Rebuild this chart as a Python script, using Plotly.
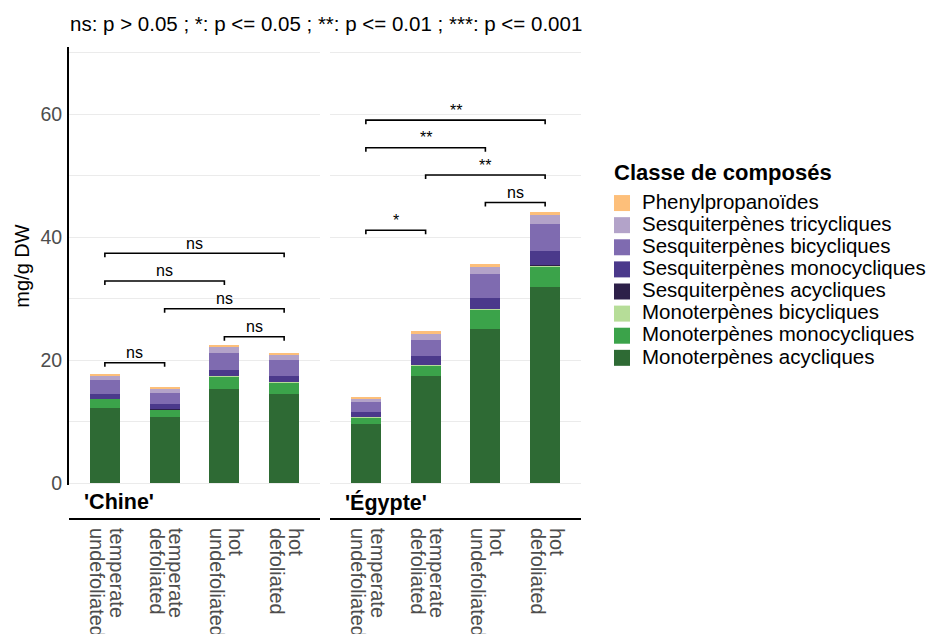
import plotly.graph_objects as go

# ---------------- data ----------------
regions = ["'Chine'", "'Égypte'"]
conditions = [["temperate", "undefoliated"], ["temperate", "defoliated"], ["hot", "undefoliated"], ["hot", "defoliated"]]

classes = ["Monoterpènes acycliques", "Monoterpènes monocycliques", "Monoterpènes bicycliques",
           "Sesquiterpènes acycliques", "Sesquiterpènes monocycliques", "Sesquiterpènes bicycliques",
           "Sesquiterpènes tricycliques", "Phenylpropanoïdes"]
colors = ["#2e6a34", "#3ba34a", "#b6dd98", "#2d2049", "#4b398b", "#7f6bb0", "#b3a3c9", "#fdbf7a"]

chine_mono_acyc = [12.2, 10.73, 15.28, 14.47]
chine_mono_mono = [1.46, 1.25, 2.0, 1.84]
chine_mono_bi = [0.05, 0.05, 0.15, 0.15]
chine_sesq_acyc = [0.02, 0.02, 0.02, 0.02]
chine_sesq_mono = [0.76, 0.82, 0.93, 0.94]
chine_sesq_bi = [2.28, 1.78, 2.83, 2.6]
chine_sesq_tri = [0.65, 0.57, 0.97, 0.8]
chine_phenyl = [0.32, 0.4, 0.27, 0.34]

egypte_mono_acyc = [9.59, 17.4, 25.04, 31.87]
egypte_mono_mono = [1.14, 1.68, 3.14, 3.41]
egypte_mono_bi = [0.05, 0.15, 0.15, 0.15]
egypte_sesq_acyc = [0.02, 0.02, 0.02, 0.02]
egypte_sesq_mono = [0.76, 1.42, 1.75, 2.29]
egypte_sesq_bi = [1.63, 2.6, 3.9, 4.39]
egypte_sesq_tri = [0.49, 0.98, 1.14, 1.47]
egypte_phenyl = [0.32, 0.47, 0.48, 0.49]

chine_series = [chine_mono_acyc, chine_mono_mono, chine_mono_bi, chine_sesq_acyc,
                chine_sesq_mono, chine_sesq_bi, chine_sesq_tri, chine_phenyl]
egypte_series = [egypte_mono_acyc, egypte_mono_mono, egypte_mono_bi, egypte_sesq_acyc,
                 egypte_sesq_mono, egypte_sesq_bi, egypte_sesq_tri, egypte_phenyl]

# significance brackets: (from condition index, to condition index, y level, label)
chine_brackets = [(0, 1, 19.56, "ns"), (2, 3, 23.79, "ns"), (1, 3, 28.34, "ns"),
                  (0, 2, 32.85, "ns"), (0, 3, 37.35, "ns")]
egypte_brackets = [(0, 1, 41.1, "*"), (2, 3, 45.6, "ns"), (1, 3, 50.08, "**"),
                   (0, 2, 54.5, "**"), (0, 3, 59.0, "**")]

title_text = "ns: p > 0.05 ; *: p <= 0.05 ; **: p <= 0.01 ; ***: p <= 0.001"
y_title = "mg/g DW"
legend_title = "Classe de composés"

# ---------------- figure ----------------
W, H = 928, 634
ML, MR, MT, MB = 69, 928 - 581, 47, 634 - 485
pw = W - ML - MR
ph = H - MT - MB
xs = list(range(len(conditions)))

fig = go.Figure()
panels = [("x", "y", chine_series, chine_brackets), ("x2", "y2", egypte_series, egypte_brackets)]
for xa, ya, series, brackets in panels:
    for name, color, vals in zip(classes, colors, series):
        fig.add_trace(go.Bar(x=xs, y=vals, name=name, marker=dict(color=color, line=dict(width=0)),
                             width=0.5, xaxis=xa, yaxis=ya, showlegend=False))
    for a, b, yl, lab in brackets:
        tip = 0.65
        fig.add_trace(go.Scatter(x=[xs[a], xs[a], xs[b], xs[b]], y=[yl - tip, yl, yl, yl - tip],
                                 mode="lines", line=dict(color="black", width=1.6),
                                 xaxis=xa, yaxis=ya, showlegend=False, hoverinfo="skip"))
        fig.add_annotation(x=(xs[a] + xs[b]) / 2, y=yl, xref=xa, yref=ya, text=lab, showarrow=False,
                           yanchor="middle", yshift=10,
                           font=dict(size=16, color="black", family="Liberation Sans, Arial"))

# legend entries (reversed order, larger square swatches)
for name, color in zip(reversed(classes), reversed(colors)):
    fig.add_trace(go.Scatter(x=[None], y=[None], mode="markers",
                             marker=dict(symbol="square", size=16, color=color),
                             name='<span style="font-size:20.5px">' + name + "</span>",
                             xaxis="x", yaxis="y", showlegend=True))

left_dom = [0, 251 / pw]
right_dom = [261 / pw, 1]
yr = [-2 / 6.15, (ph - 2) / 6.15]

tick_text = ["<br>".join('<span style="font-size:20px">' + part + "</span>" for part in c) for c in conditions]

common_x = dict(range=[-0.6, 3.6], tickvals=xs, ticktext=tick_text, tickangle=90,
                showgrid=False, zeroline=False, showline=False, ticks="",
                tickfont=dict(size=15, color="#4d4d4d"), ticklabelstandoff=42, fixedrange=True)
fig.update_layout(
    xaxis=dict(domain=left_dom, **common_x),
    xaxis2=dict(domain=right_dom, anchor="y2", **common_x),
    yaxis=dict(range=yr, tickvals=[0, 20, 40, 60], showgrid=True, gridcolor="#ebebeb", gridwidth=1,
               minor=dict(tickvals=[10, 30, 50, 70], showgrid=True, gridcolor="#ebebeb", gridwidth=1),
               zeroline=False, showline=True, linecolor="black", linewidth=1.8, ticks="",
               tickfont=dict(size=19.5, color="#4d4d4d"), ticklabelstandoff=1,
               title=dict(text=y_title, font=dict(size=20, color="black"), standoff=5)),
    yaxis2=dict(range=yr, anchor="x2", tickvals=[0, 20, 40, 60], showticklabels=False, showgrid=True,
                gridcolor="#ebebeb", gridwidth=1,
                minor=dict(tickvals=[10, 30, 50, 70], showgrid=True, gridcolor="#ebebeb", gridwidth=1),
                zeroline=False, showline=False, ticks=""),
)

# strip labels + strip lines
strip_y_text = -(502 - 485) / ph
strip_y_line = -(519 - 485) / ph
for xa, lab in zip(["x", "x2"], regions):
    fig.add_annotation(x=0, y=strip_y_text, xref=f"{xa} domain", yref="paper", text=f"<b>{lab}</b>",
                       showarrow=False, xanchor="left", yanchor="middle", xshift=13,
                       font=dict(size=21.5, color="black"))
    fig.add_shape(type="line", xref=f"{xa} domain", yref="paper", x0=0, x1=1,
                  y0=strip_y_line, y1=strip_y_line, line=dict(color="black", width=2))

# legend title
fig.add_annotation(x=(614 - ML) / pw, y=(485 - 172) / ph, xref="paper", yref="paper",
                   text="<b>" + legend_title + "</b>", showarrow=False, xanchor="left", yanchor="middle",
                   xshift=-2, font=dict(size=22, color="black"))

fig.update_layout(
    width=W, height=H,
    margin=dict(l=ML, r=MR, t=MT, b=MB, autoexpand=False),
    paper_bgcolor="white", plot_bgcolor="white",
    barmode="stack", bargap=0,
    font=dict(family="Liberation Sans, Arial, sans-serif", color="black"),
    title=dict(text=title_text, x=(70 - ML) / pw, xref="paper", xanchor="left",
               y=1 - 24 / H, yref="container", yanchor="middle", font=dict(size=20.5, color="black")),
    legend=dict(x=(602 - ML) / pw, xanchor="left", y=(485 - 187) / ph, yanchor="top",
                font=dict(size=14.7, color="black"), itemsizing="trace", traceorder="normal",
                bgcolor="rgba(0,0,0,0)"),
    showlegend=True,
)

fig.write_html("out.html", config={"displayModeBar": False},
               post_script="document.body.style.margin='0px';")
